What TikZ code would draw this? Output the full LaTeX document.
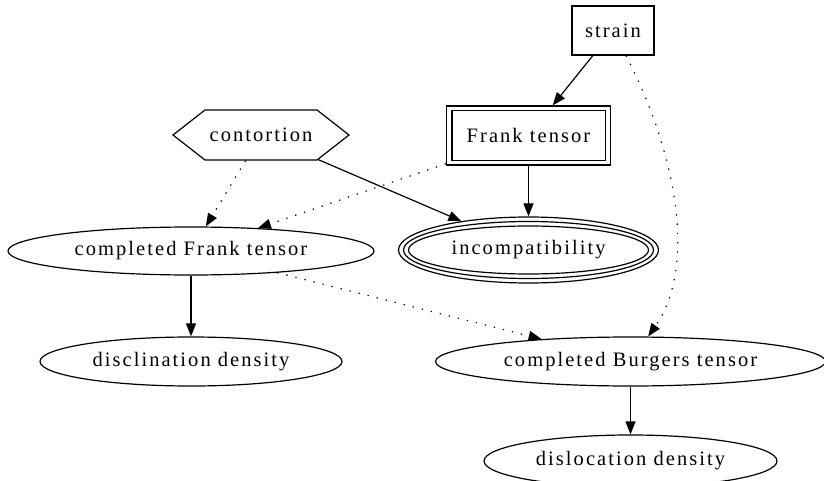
\documentclass[tikz,border=0pt]{standalone}
\usepackage{fontspec}
\setmainfont{Liberation Serif}[LetterSpace=10]
\usetikzlibrary{arrows.meta,shapes.geometric,shapes.symbols}
\begin{document}
\begin{tikzpicture}[x=1pt,y=-1pt,
  every node/.style={font=\fontsize{20.5}{23}\selectfont, inner sep=0pt, line width=1.2pt},
  ell/.style={draw, ellipse},
  box/.style={draw, rectangle},
  edge/.style={line width=1.2pt, -{Triangle[length=13pt,width=10pt]}},
  dotedge/.style={edge, dash pattern=on 1.3pt off 8pt},
  ring/.style={line width=1.2pt}
]
\useasboundingbox (0,0) rectangle (824,481);
\clip (0,0) rectangle (824,481);

\node[box, minimum width=82pt, minimum height=49pt] (strain) at (613,30.5) {strain};
\node[box, minimum width=164pt, minimum height=59pt] (ft) at (528.5,135.5) {Frank tensor};
\draw[ring] ([xshift=6pt,yshift=-5pt]ft.north west) rectangle ([xshift=-6pt,yshift=5pt]ft.south east);
\node[draw, shape=signal, signal to=west and east, signal pointer angle=76,
      minimum width=176pt, minimum height=50pt] (cont) at (261,135) {contortion};
\node[ell, minimum width=260pt, minimum height=66pt] (inc) at (528.5,250) {incompatibility};
\draw[ring] (inc.center) ellipse [x radius=125pt, y radius=28.5pt];
\draw[ring] (inc.center) ellipse [x radius=120pt, y radius=24pt];
\node[ell, minimum width=366pt, minimum height=48pt] (cft) at (191,251) {completed Frank tensor};
\node[ell, minimum width=302pt, minimum height=49pt] (dd) at (191,361.5) {disclination density};
\node[ell, minimum width=390pt, minimum height=49pt] (cbt) at (630.5,361.5) {completed Burgers tensor};
\node[ell, minimum width=293pt, minimum height=52pt] (dl) at (630.5,461) {dislocation density};

\draw[edge] (strain) -- (ft);
\draw[dotedge] (strain) .. controls (680,160) and (695,270) .. (cbt);
\draw[dotedge] (cont) -- (cft);
\draw[edge] (cont) -- (inc);
\draw[dotedge] (ft) -- (cft);
\draw[edge] (ft) -- (inc);
\draw[edge] (cft) -- (dd);
\draw[dotedge] (cft) -- (cbt);
\draw[edge] (cbt) -- (dl);
\end{tikzpicture}
\end{document}
